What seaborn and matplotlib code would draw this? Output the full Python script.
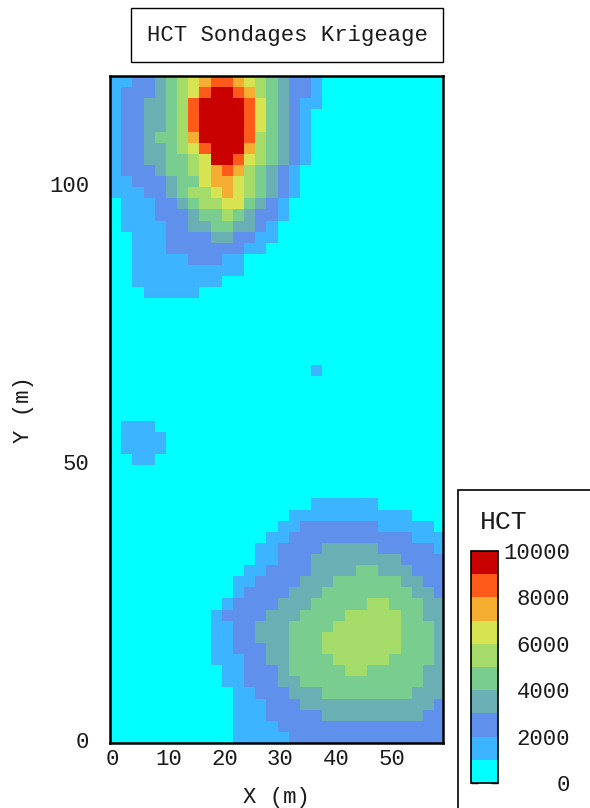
import numpy as np
import matplotlib
matplotlib.use("Agg")
import matplotlib.pyplot as plt
import seaborn as sns
from matplotlib.colors import ListedColormap, BoundaryNorm
from matplotlib.patches import Rectangle
from matplotlib.cm import ScalarMappable

# ---------------- data ----------------
title = "HCT Sondages Krigeage"
legend_title = "HCT"
x_label = "X (m)"
y_label = "Y (m)"
x_ticks = [0, 10, 20, 30, 40, 50]
y_ticks = [0, 50, 100]
levels = [0, 1000, 2000, 3000, 4000, 5000, 6000, 7000, 8000, 9000, 10000]
cbar_ticks = [0, 2000, 4000, 6000, 8000, 10000]
class_colors = ["#00FFFF", "#3CB4FF", "#5F90EB", "#6AAFB4", "#78CD8F",
                "#A5DC69", "#D7E350", "#F5AE32", "#FF5A1A", "#C80000"]

# kriged HCT class (0 = 0-1000, ..., 9 = 9000-10000) on a 2 m grid,
# top row = north (Y ~ 119), first column = X ~ 0
class_rows = [
    "112234567887654322100000000000",
    "122234568998754322100000000000",
    "122334589999864321100000000000",
    "122334589999864321000000000000",
    "122334589999864321000000000000",
    "122344579999854321000000000000",
    "122334568999754321000000000000",
    "122334456998654321000000000000",
    "122234456787543210000000000000",
    "112223446776543210000000000000",
    "111223455676543210000000000000",
    "011122345566432100000000000000",
    "011122234454322100000000000000",
    "011112233443321000000000000000",
    "001112222332211000000000000000",
    "001112222222110000000000000000",
    "001111122211000000000000000000",
    "001111111111000000000000000000",
    "001111111100000000000000000000",
    "000111110000000000000000000000",
    "000000000000000000000000000000",
    "000000000000000000000000000000",
    "000000000000000000000000000000",
    "000000000000000000000000000000",
    "000000000000000000000000000000",
    "000000000000000000000000000000",
    "000000000000000000100000000000",
    "000000000000000000000000000000",
    "000000000000000000000000000000",
    "000000000000000000000000000000",
    "000000000000000000000000000000",
    "011100000000000000000000000000",
    "011110000000000000000000000000",
    "011110000000000000000000000000",
    "001100000000000000000000000000",
    "000000000000000000000000000000",
    "000000000000000000000000000000",
    "000000000000000000000000000000",
    "000000000000000000111111000000",
    "000000000000000011111111111000",
    "000000000000000112222222111110",
    "000000000000001122222222222111",
    "000000000000011222233333222221",
    "000000000000011222333333332222",
    "000000000000112222333344333222",
    "000000000001122223334444443322",
    "000000000001222233344444444332",
    "000000000012222333444445544433",
    "000000000122223334444555554433",
    "000000000112233344445555554443",
    "000000000112233344455555554443",
    "000000000112223344455555554443",
    "000000000111223344445555544443",
    "000000000011222344444554444433",
    "000000000011222334444444444433",
    "000000000001122233344444444333",
    "000000000001112223333333333332",
    "000000000001112222233333333322",
    "000000000001111222222222222222",
    "000000000001111122222222222222",
]
assert all(len(r) == 30 for r in class_rows), [len(r) for r in class_rows]

# grid geometry
cell = 2.0          # metres per grid cell
x_left = -0.5       # X of the left grid edge
y_top = 119.5       # Y of the top grid edge
x_right_view = 59.1 # X where the view ends

codes = np.array([[int(c) for c in r] for r in class_rows])
hct = codes * 1000 + 500  # class mid values

# ---------------- figure ----------------
sns.set_style("white")
plt.rcParams["font.family"] = ["Liberation Mono", "DejaVu Sans"]
plt.rcParams["xtick.direction"] = "in"
plt.rcParams["ytick.direction"] = "in"

W, H = 590, 808
fig = plt.figure(figsize=(W / 100, H / 100), dpi=100)

def fx(px):
    return px / W

def fy(py):
    return 1 - py / H

ax = fig.add_axes([fx(110), fy(743), (443 - 110) / W, (743 - 76) / H])

cmap = ListedColormap(class_colors)
norm = BoundaryNorm(levels, cmap.N)

sns.heatmap(hct, cmap=cmap, norm=norm, cbar=False, ax=ax,
            xticklabels=False, yticklabels=False)

ax.set_xlim(0, (x_right_view - x_left) / cell)
ax.set_ylim(len(class_rows), 0)

for sp in ax.spines.values():
    sp.set_visible(True)
    sp.set_color("black")
    sp.set_linewidth(1.8)

ax.set_xticks([(x - x_left) / cell for x in x_ticks])
ax.set_xticklabels([str(x) for x in x_ticks])
ax.set_yticks([(y_top - y) / cell for y in y_ticks])
ax.set_yticklabels([str(y) for y in y_ticks], rotation=0)

ax.tick_params(axis="both", direction="in", length=9, width=1.2,
               color="black", top=True, right=True, bottom=True, left=True,
               labelsize=16, labelcolor="#1a1a1a")
ax.tick_params(axis="x", pad=4)
ax.tick_params(axis="y", pad=15)

ax.set_xlabel(x_label, fontsize=16, color="#1a1a1a")
ax.set_ylabel(y_label, fontsize=16, color="#1a1a1a")
ax.xaxis.set_label_coords(0.5, (743 - 797) / (743 - 76))
ax.xaxis.label.set_verticalalignment("center")
ax.yaxis.set_label_coords((23 - 110) / (443 - 110), 0.5)
ax.yaxis.label.set_verticalalignment("center")

# title box
fig.add_artist(Rectangle((fx(131), fy(62)), (443 - 131) / W, (62 - 8) / H,
                         transform=fig.transFigure, fill=False,
                         edgecolor="black", linewidth=1.0))
fig.text(fx(287), fy(35), title, ha="center", va="center",
         fontsize=16, color="#1a1a1a")

# legend box
fig.add_artist(Rectangle((fx(458), fy(830)), 200 / W, (830 - 490) / H,
                         transform=fig.transFigure, fill=False,
                         edgecolor="black", linewidth=1.2, clip_on=False))
fig.text(fx(480), fy(522), legend_title, ha="left", va="center",
         fontsize=19, color="#1a1a1a")

cax = fig.add_axes([fx(471), fy(783), (498 - 471) / W, (783 - 551) / H])
cb = fig.colorbar(ScalarMappable(norm=norm, cmap=cmap), cax=cax,
                  ticks=cbar_ticks)
cb.outline.set_linewidth(1.2)
cb.outline.set_edgecolor("black")
cax.yaxis.set_ticks_position("both")
cax.yaxis.set_tick_params(which="major", direction="in", length=5,
                          width=1.0, color="black", left=True, right=True,
                          labelleft=False, labelright=True, labelsize=16,
                          labelcolor="#1a1a1a", pad=(570 - 498) * 0.72)
cax.yaxis.set_tick_params(which="minor", length=0)
cax.set_yticklabels([str(t) for t in cbar_ticks])
for t in cax.get_yticklabels():
    t.set_horizontalalignment("right")

fig.savefig("out.png", dpi=100)
